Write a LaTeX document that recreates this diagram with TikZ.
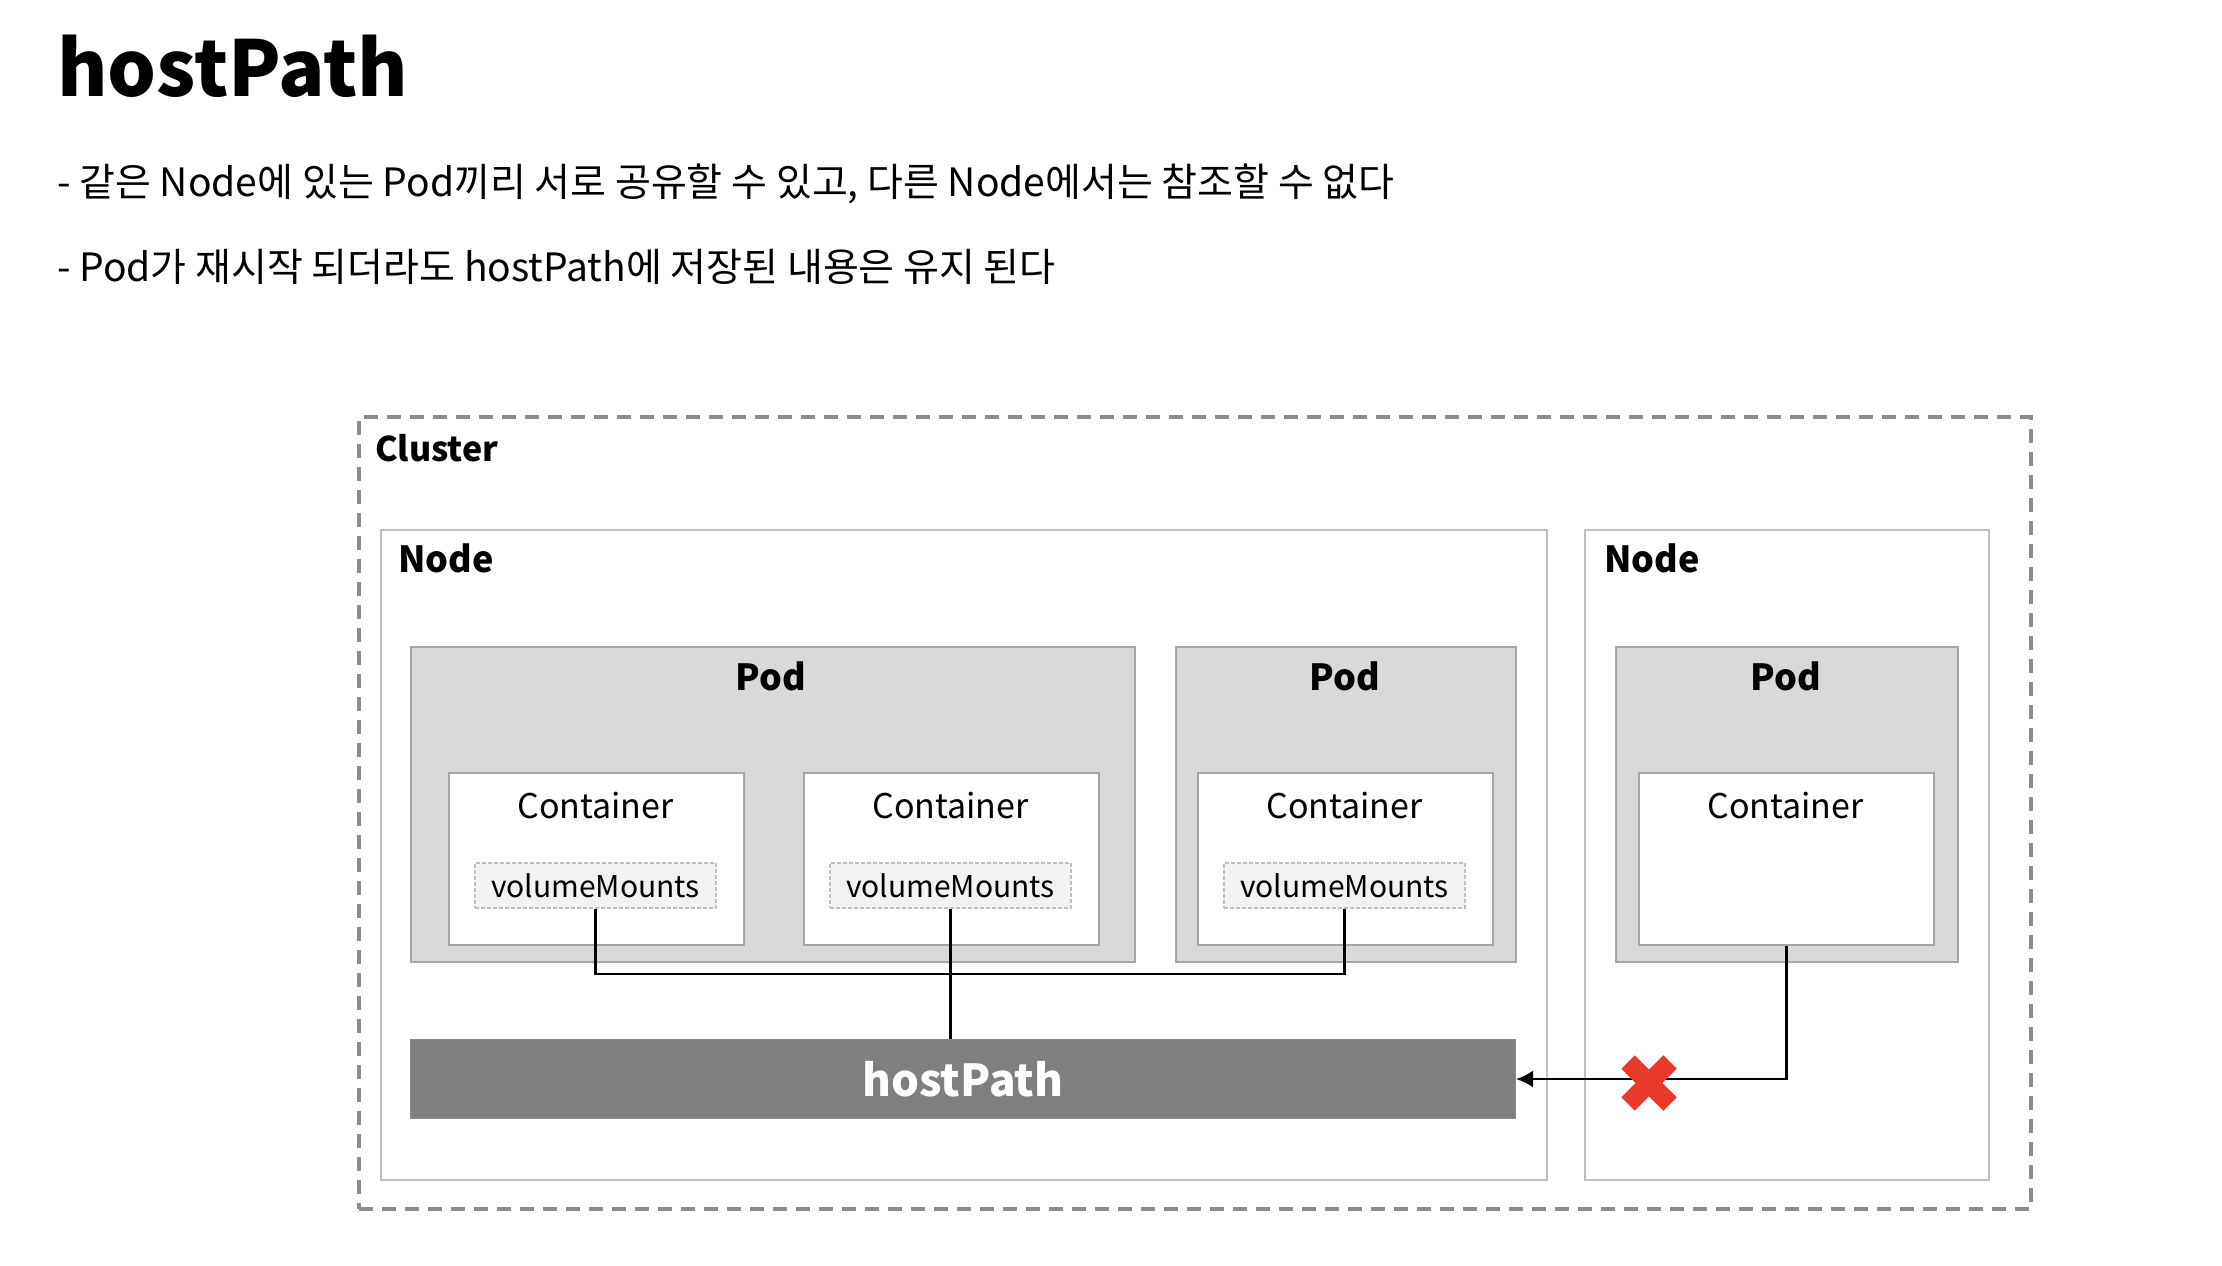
\documentclass[tikz,border=0pt]{standalone}
\usepackage{fontspec}
\setmainfont{Noto Sans CJK KR}
\usetikzlibrary{arrows.meta}
\definecolor{clgray}{HTML}{8C8C8C}
\definecolor{ndgray}{HTML}{BFBFBF}
\definecolor{podfill}{HTML}{D9D9D9}
\definecolor{podline}{HTML}{A6A6A6}
\definecolor{vmfill}{HTML}{F2F2F2}
\definecolor{hpfill}{HTML}{7F7F7F}
\definecolor{xred}{HTML}{E8392B}
\tikzset{
  clusterbox/.style={draw=clgray, line width=3.5pt, dash pattern=on 14pt off 9pt, anchor=north west, inner sep=0pt},
  nodebox/.style={draw=ndgray, line width=2pt, fill=white, anchor=north west, inner sep=0pt},
  podbox/.style={draw=podline, line width=2pt, fill=podfill, anchor=north west, inner sep=0pt},
  contbox/.style={draw=podline, line width=2pt, fill=white, anchor=north west, inner sep=0pt},
  vmbox/.style={draw=ndgray, line width=1.5pt, dash pattern=on 4pt off 2pt, fill=vmfill, inner sep=0pt, font=\fontsize{30}{36}\selectfont},
  hpbox/.style={draw=clgray, line width=1pt, fill=hpfill, anchor=north west, inner sep=0pt, text=white, font=\fontsize{44}{52}\selectfont\bfseries},
  lbl/.style={inner sep=0pt, font=\fontsize{36}{42}\selectfont\bfseries},
  ctlbl/.style={inner sep=0pt, anchor=base, font=\fontsize{34}{40}\selectfont},
  conn/.style={draw=black, line width=2.5pt},
  bodytext/.style={inner sep=0pt, anchor=base west, font=\fontsize{39}{46}\selectfont},
}
\begin{document}
\begin{tikzpicture}[x=1pt,y=-1pt]
\useasboundingbox (0,0) rectangle (2222,1266);
% heading
\node[inner sep=0pt, anchor=base west, font=\fontsize{77}{90}\selectfont\bfseries] (title) at (57,96) {hostPath};
\node[bodytext] (line1) at (57,196) {- 같은 Node에 있는 Pod끼리 서로 공유할 수 있고, 다른 Node에서는 참조할 수 없다};
\node[bodytext] (line2) at (57,281) {- Pod가 재시작 되더라도 hostPath에 저장된 내용은 유지 된다};
% cluster
\node[clusterbox, minimum width=1672pt, minimum height=792pt] (cluster) at (357,415) {};
\node[lbl, anchor=base west, font=\fontsize{34}{40}\selectfont\bfseries] (clusterlbl) at (375,461) {Cluster};
% nodes
\node[nodebox, minimum width=1166pt, minimum height=650pt] (node1) at (380,529) {};
\node[lbl, anchor=base west] (node1lbl) at (398,572) {Node};
\node[nodebox, minimum width=404pt, minimum height=650pt] (node2) at (1584,529) {};
\node[lbl, anchor=base west] (node2lbl) at (1604,572) {Node};
% pods
\node[podbox, minimum width=724pt, minimum height=315pt] (pod1) at (410,646) {};
\node[lbl, anchor=base] (pod1lbl) at (771,690) {Pod};
\node[podbox, minimum width=340pt, minimum height=315pt] (pod2) at (1175,646) {};
\node[lbl, anchor=base] (pod2lbl) at (1345,690) {Pod};
\node[podbox, minimum width=342pt, minimum height=315pt] (pod3) at (1615,646) {};
\node[lbl, anchor=base] (pod3lbl) at (1786,690) {Pod};
% containers
\node[contbox, minimum width=295pt, minimum height=172pt] (c1) at (448,772) {};
\node[ctlbl] (c1lbl) at (595.5,818) {Container};
\node[contbox, minimum width=295pt, minimum height=172pt] (c2) at (803,772) {};
\node[ctlbl] (c2lbl) at (950.5,818) {Container};
\node[contbox, minimum width=295pt, minimum height=172pt] (c3) at (1197,772) {};
\node[ctlbl] (c3lbl) at (1344.5,818) {Container};
\node[contbox, minimum width=295pt, minimum height=172pt] (c4) at (1638,772) {};
\node[ctlbl] (c4lbl) at (1785.5,818) {Container};
% volumeMounts
\node[vmbox, minimum width=241pt, minimum height=45pt] (vm1) at (595.5,885.5) {volumeMounts};
\node[vmbox, minimum width=241pt, minimum height=45pt] (vm2) at (950.5,885.5) {volumeMounts};
\node[vmbox, minimum width=241pt, minimum height=45pt] (vm3) at (1344.5,885.5) {volumeMounts};
% hostPath
\node[hpbox, minimum width=1105pt, minimum height=79pt] (hp) at (410,1039) {hostPath};
% connectors
\coordinate (join) at (950.5,974);
\draw[conn] (vm1.south) |- (join) -| (vm3.south);
\draw[conn] (vm2.south) -- (vm2.south |- hp.north);
\draw[conn, -{Latex[length=17pt,width=17pt]}] (c4.south) |- (hp.east);
% red cross
\coordinate (xc) at (1649,1083);
\draw[xred, line width=19pt] ([shift={(-21,-21)}]xc) -- ([shift={(21,21)}]xc);
\draw[xred, line width=19pt] ([shift={(-21,21)}]xc) -- ([shift={(21,-21)}]xc);
\end{tikzpicture}
\end{document}
